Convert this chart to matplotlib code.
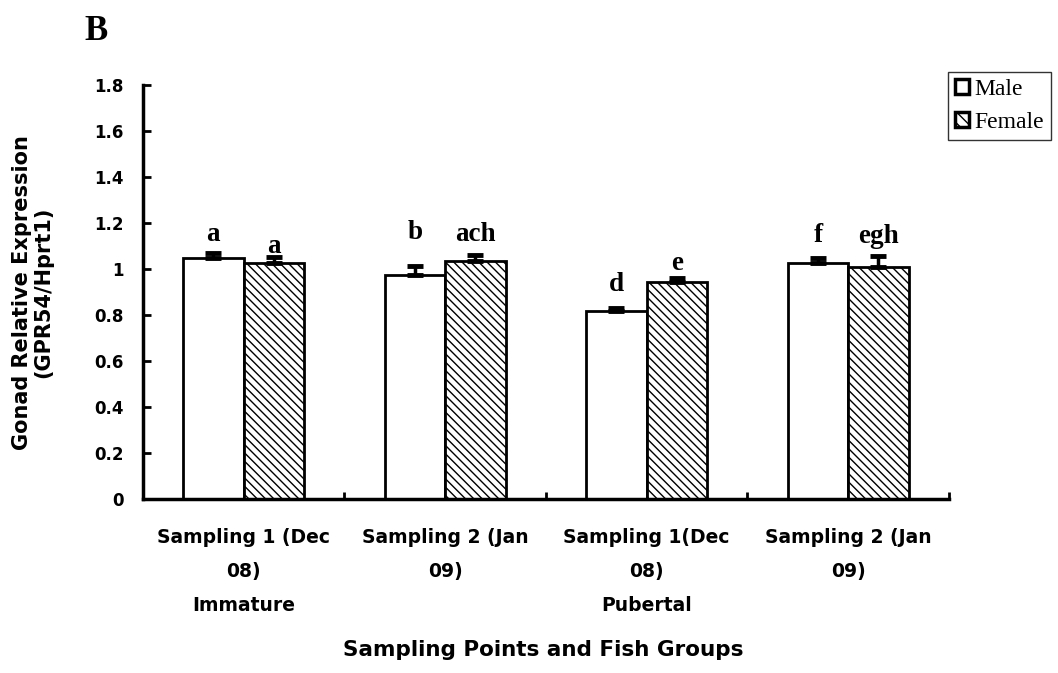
import matplotlib
matplotlib.use("Agg")
import matplotlib.pyplot as plt
import numpy as np
from matplotlib.patches import Patch

# mean expression and upper error per group
groups = ["Sampling 1 (Dec\n08)\nImmature", "Sampling 2 (Jan\n09)",
          "Sampling 1(Dec\n08)\nPubertal", "Sampling 2 (Jan\n09)"]
male = [1.049, 0.974, 0.819, 1.027]
male_err = [0.02, 0.04, 0.012, 0.02]
female = [1.027, 1.036, 0.945, 1.010]
female_err = [0.025, 0.025, 0.016, 0.047]
male_letters = ["a", "b", "d", "f"]
female_letters = ["a", "ach", "e", "egh"]

SANS = "DejaVu Sans"
SERIF = "Liberation Serif"
plt.rcParams["hatch.color"] = "#444444"
plt.rcParams["hatch.linewidth"] = 1.0

fig = plt.figure(figsize=(10.58, 6.73), dpi=100)
ax = fig.add_axes([0.135, 0.2585, 0.762, 0.6152])

x = np.arange(len(groups))
w = 0.3
ax.bar(x - w / 2, male, w, color="white", edgecolor="black", linewidth=2, zorder=2)
ax.bar(x + w / 2, female, w, color="white", edgecolor="black", linewidth=2,
       hatch="\\\\\\\\", zorder=2)
ax.errorbar(x - w / 2, male, yerr=[np.zeros(len(male)), male_err], fmt="none",
            ecolor="black", elinewidth=2.5, capsize=5.5, capthick=3.5, zorder=3)
ax.errorbar(x + w / 2, female, yerr=[np.zeros(len(female)), female_err], fmt="none",
            ecolor="black", elinewidth=2.5, capsize=5.5, capthick=3.5, zorder=3)

# significance letters, nudged by hand above each error bar (points)
male_nudge = [9, 19, 12, 12]
female_nudge = [3, 10, 6, 9]
for xs, vals, errs, letters, nudge in [
        (x - w / 2, male, male_err, male_letters, male_nudge),
        (x + w / 2, female, female_err, female_letters, female_nudge)]:
    for xi, v, e, t, n in zip(xs, vals, errs, letters, nudge):
        ax.annotate(t, (xi, v + e), xytext=(0, n), textcoords="offset points",
                    ha="center", va="baseline", family=SERIF,
                    fontweight="bold", fontsize=19.5)

ax.set_xlim(-0.5, len(groups) - 0.5)
ax.set_ylim(0, 1.8)
yt = np.arange(0, 1.81, 0.2)
ax.set_yticks(yt)
ax.set_yticklabels(["%g" % round(v, 1) for v in yt],
                   family=SANS, fontweight="bold", fontsize=12)

# group separators as major ticks, group names as minor tick labels
ax.set_xticks(x + 0.5)
ax.set_xticklabels([])
ax.tick_params(axis="x", which="major", direction="in", length=5, width=2)
ax.set_xticks(x, minor=True)
ax.set_xticklabels(groups, minor=True, family=SANS, fontweight="bold",
                   fontsize=13.5, linespacing=2.0, va="top")
ax.tick_params(axis="x", which="minor", length=0, pad=21)
ax.tick_params(axis="y", direction="in", length=6, width=2, pad=14)

for s in ["top", "right"]:
    ax.spines[s].set_visible(False)
for s in ["left", "bottom"]:
    ax.spines[s].set_linewidth(2.5)

fig.text(0.031, 0.566, "Gonad Relative Expression\n(GPR54/Hprt1)", rotation=90,
         ha="center", va="center", family=SANS, fontweight="bold",
         fontsize=15, linespacing=1.1)
fig.text(0.513, 0.025, "Sampling Points and Fish Groups", ha="center",
         va="baseline", family=SANS, fontweight="bold", fontsize=15.5)
fig.text(0.080, 0.94, "B", va="baseline", family=SERIF, fontweight="bold",
         fontsize=25)

handles = [Patch(facecolor="white", edgecolor="black", linewidth=2.5),
           Patch(facecolor="white", edgecolor="black", linewidth=2.5,
                 hatch="\\\\\\")]
leg = fig.legend(handles, ["Male", "Female"], loc="upper left",
                 bbox_to_anchor=(0.896, 0.893),
                 prop={"family": SERIF, "size": 17},
                 frameon=True, fancybox=False, edgecolor="black",
                 handlelength=0.6, handleheight=0.6, handletextpad=0.2,
                 borderpad=0.3, labelspacing=0.5, borderaxespad=0)
leg.get_frame().set_linewidth(1)

fig.savefig("out.png", dpi=100)
